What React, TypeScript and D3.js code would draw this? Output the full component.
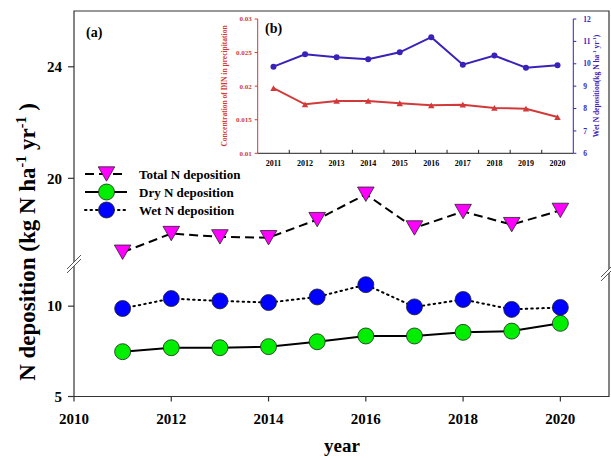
import React from 'react';
import * as d3 from 'd3';

const years = [2011, 2012, 2013, 2014, 2015, 2016, 2017, 2018, 2019, 2020];
const totalN = [17.35, 18.02, 17.9, 17.87, 18.52, 19.43, 18.22, 18.81, 18.34, 18.85];
const dryN = [7.48, 7.7, 7.7, 7.76, 8.03, 8.35, 8.35, 8.55, 8.62, 9.05];
const wetN = [9.87, 10.42, 10.29, 10.2, 10.51, 11.19, 9.96, 10.37, 9.82, 9.93];
const dinConc = [0.0197, 0.0173, 0.0178, 0.0178, 0.01745, 0.01715, 0.01724, 0.01675, 0.01664, 0.0154];

const xTicks = [2010, 2012, 2014, 2016, 2018, 2020];
const yTicksUpper = [20, 24];
const yTicksLower = [5, 10];
const insetLeftTicks = [0.01, 0.015, 0.02, 0.025, 0.03];
const insetRightTicks = [6, 7, 8, 9, 10, 11, 12];
const legendItems = ['Total N deposition', 'Dry N deposition', 'Wet N deposition'];

const FONT = "'Liberation Serif', 'Times New Roman', serif";
const RED = '#d23a3a';
const PURPLE = '#3a22b8';

const W = 611, H = 458;
const L = 74, R = 609, T = 11, B = 396.5, BRK = 262;

const x = d3.scaleLinear().domain([2010, 2021]).range([L, R]);
const yUp = d3.scaleLinear().domain([17, 26]).range([BRK, T]);
const yLo = d3.scaleLinear().domain([5, 12.5]).range([B, BRK - 1]);

const iL = 257.7, iR = 573.3, iT = 19, iB = 153.3;
const xb = d3.scaleBand<number>().domain(years).range([iL, iR]);
const yConc = d3.scaleLinear().domain([0.01, 0.03]).range([iB, iT]);
const yWet2 = d3.scaleLinear().domain([6, 12]).range([iB, iT]);

function triDown(cx: number, cy: number, w = 16.6, h = 14.4) {
  return `M${cx - w / 2},${cy - h / 2}L${cx + w / 2},${cy - h / 2}L${cx},${cy + h / 2}Z`;
}
function triUp(cx: number, cy: number, w = 6.5, h = 5.8) {
  return `M${cx - w / 2},${cy + h / 2}L${cx + w / 2},${cy + h / 2}L${cx},${cy - h / 2}Z`;
}

export default function App() {
  const lineTot = d3.line<number>().x((_, i) => x(years[i])).y(d => yUp(d))(totalN) || '';
  const lineDry = d3.line<number>().x((_, i) => x(years[i])).y(d => yLo(d))(dryN) || '';
  const lineWet = d3.line<number>().x((_, i) => x(years[i])).y(d => yLo(d))(wetN) || '';
  const cx = (yr: number) => (xb(yr) || 0) + xb.bandwidth() / 2;
  const lineConc = d3.line<number>().x((_, i) => cx(years[i])).y(d => yConc(d))(dinConc) || '';
  const lineWet2 = d3.line<number>().x((_, i) => cx(years[i])).y(d => yWet2(d))(wetN) || '';

  const brk = (bx: number, by: number) => (
    <g>
      <polygon points={`${bx - 7},${by + 7} ${bx + 7},${by - 7} ${bx + 7},${by - 3} ${bx - 7},${by + 11}`} fill="white" />
      <line x1={bx - 7} y1={by + 7} x2={bx + 7} y2={by - 7} stroke="#555" strokeWidth={1} />
      <line x1={bx - 7} y1={by + 11} x2={bx + 7} y2={by - 3} stroke="#555" strokeWidth={1} />
    </g>
  );

  const legY = [174, 192, 210];

  return (
    <svg width={W} height={H} style={{ position: 'absolute', left: 0, top: 0, background: 'white' }} fontFamily={FONT}>
      <rect x={0} y={0} width={W} height={H} fill="white" />
      {/* frame */}
      <path d={`M${L},${B}L${L},${T}L${R},${T}L${R},${B}Z`} fill="none" stroke="#333" strokeWidth={1.2} />
      {brk(L, BRK)}
      {brk(R - 1, BRK + 8)}

      {/* left ticks */}
      {yTicksUpper.map(t => (
        <g key={'u' + t}>
          <line x1={L - 6} x2={L} y1={yUp(t)} y2={yUp(t)} stroke="#333" strokeWidth={1.2} />
          <text x={L - 12} y={yUp(t)} dy="0.35em" textAnchor="end" fontSize={15} fontWeight="bold">{t}</text>
        </g>
      ))}
      {yTicksLower.map(t => (
        <g key={'l' + t}>
          <line x1={L - 6} x2={L} y1={yLo(t)} y2={yLo(t)} stroke="#333" strokeWidth={1.2} />
          <text x={L - 12} y={yLo(t)} dy="0.35em" textAnchor="end" fontSize={15} fontWeight="bold">{t}</text>
        </g>
      ))}
      {/* x ticks */}
      {xTicks.map(t => (
        <g key={'x' + t}>
          <line x1={x(t)} x2={x(t)} y1={B} y2={B + 5} stroke="#333" strokeWidth={1.2} />
          <text x={x(t)} y={424} textAnchor="middle" fontSize={15} fontWeight="bold">{t}</text>
        </g>
      ))}
      <text x={342} y={452} textAnchor="middle" fontSize={19} fontWeight="bold">year</text>
      <text transform={`translate(35,242) rotate(-90)`} textAnchor="middle" fontSize={23} fontWeight="bold">
        N deposition (kg N ha<tspan fontSize={14} dy={-9}>-1</tspan><tspan dy={9}> yr</tspan><tspan fontSize={14} dy={-9}>-1</tspan><tspan dy={9}> )</tspan>
      </text>
      <text x={86} y={37} fontSize={14} fontWeight="bold">(a)</text>

      {/* series */}
      <path d={lineTot} fill="none" stroke="black" strokeWidth={2} strokeDasharray="9,5" />
      <path d={lineDry} fill="none" stroke="black" strokeWidth={2} />
      <path d={lineWet} fill="none" stroke="black" strokeWidth={2} strokeDasharray="1.5,4" strokeLinecap="round" />
      {totalN.map((v, i) => (
        <path key={'t' + i} d={triDown(x(years[i]), yUp(v))} fill="#ff00ff" stroke="#222" strokeWidth={0.8} />
      ))}
      {dryN.map((v, i) => (
        <circle key={'d' + i} cx={x(years[i])} cy={yLo(v)} r={8} fill="#00ee00" stroke="#222" strokeWidth={0.8} />
      ))}
      {wetN.map((v, i) => (
        <circle key={'w' + i} cx={x(years[i])} cy={yLo(v)} r={8} fill="#0000ff" stroke="#222" strokeWidth={0.8} />
      ))}

      {/* legend */}
      <line x1={85} x2={127} y1={legY[0]} y2={legY[0]} stroke="black" strokeWidth={2} strokeDasharray="9,5" />
      <path d={triDown(106.5, legY[0])} fill="#ff00ff" stroke="#222" strokeWidth={0.8} />
      <line x1={85} x2={127} y1={legY[1]} y2={legY[1]} stroke="black" strokeWidth={2} />
      <circle cx={106.5} cy={legY[1]} r={8} fill="#00ee00" stroke="#222" strokeWidth={0.8} />
      <line x1={85} x2={127} y1={legY[2]} y2={legY[2]} stroke="black" strokeWidth={2} strokeDasharray="1.5,4" strokeLinecap="round" />
      <circle cx={106.5} cy={legY[2]} r={8} fill="#0000ff" stroke="#222" strokeWidth={0.8} />
      {legendItems.map((s, i) => (
        <text key={s} x={139} y={legY[i]} dy="0.35em" fontSize={13} fontWeight="bold">{s}</text>
      ))}

      {/* inset */}
      <line x1={iL} x2={iL} y1={iT} y2={iB} stroke={RED} strokeWidth={1} />
      <line x1={iR} x2={iR} y1={iT} y2={iB} stroke={PURPLE} strokeWidth={1} />
      <line x1={iL} x2={iR} y1={iB} y2={iB} stroke="#222" strokeWidth={1} />
      {years.slice(1).map(yr => (
        <line key={'ib' + yr} x1={xb(yr)} x2={xb(yr)} y1={iB} y2={iB - 3.5} stroke="#222" strokeWidth={1} />
      ))}
      {years.map(yr => (
        <text key={'il' + yr} x={cx(yr)} y={166} textAnchor="middle" fontSize={8} fontWeight="bold">{yr}</text>
      ))}
      {insetLeftTicks.map(t => (
        <g key={'cl' + t}>
          <line x1={iL - 3} x2={iL} y1={yConc(t)} y2={yConc(t)} stroke={RED} strokeWidth={1} />
          <text x={iL - 6} y={yConc(t)} dy="0.35em" textAnchor="end" fontSize={7} fontWeight="bold" fill={RED}>{t}</text>
        </g>
      ))}
      {insetRightTicks.map(t => (
        <g key={'cr' + t}>
          <line x1={iR} x2={iR + 3} y1={yWet2(t)} y2={yWet2(t)} stroke={PURPLE} strokeWidth={1} />
          <text x={iR + 10} y={yWet2(t)} dy="0.35em" textAnchor="start" fontSize={7.5} fontWeight="bold" fill={PURPLE}>{t}</text>
        </g>
      ))}
      <text transform={`translate(227,86) rotate(-90)`} textAnchor="middle" fontSize={7.5} fontWeight="bold" fill={RED}>Concentration of DIN in precipitation</text>
      <text transform={`translate(599,86) rotate(-90)`} textAnchor="middle" fontSize={7.5} fontWeight="bold" fill={PURPLE}>
        Wet N deposition(kg N ha<tspan fontSize={5} dy={-3}>-1</tspan><tspan dy={3}> yr</tspan><tspan fontSize={5} dy={-3}>-1</tspan><tspan dy={3}>)</tspan>
      </text>
      <text x={265} y={33} fontSize={14} fontWeight="bold">(b)</text>

      <path d={lineConc} fill="none" stroke={RED} strokeWidth={2} />
      <path d={lineWet2} fill="none" stroke={PURPLE} strokeWidth={2} />
      {dinConc.map((v, i) => (
        <path key={'c' + i} d={triUp(cx(years[i]), yConc(v))} fill={RED} />
      ))}
      {wetN.map((v, i) => (
        <circle key={'w2' + i} cx={cx(years[i])} cy={yWet2(v)} r={3} fill={PURPLE} />
      ))}
    </svg>
  );
}
